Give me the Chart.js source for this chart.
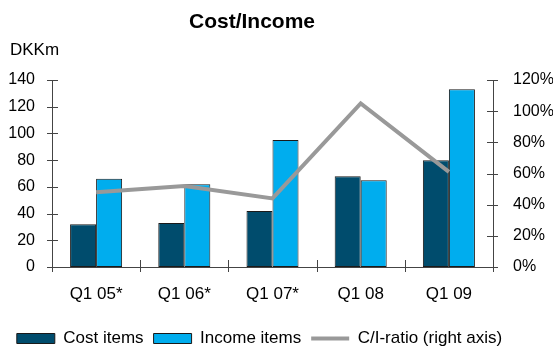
<!DOCTYPE html>
<html>
<head>
<meta charset="utf-8">
<title>Cost/Income</title>
<script src="https://cdn.jsdelivr.net/npm/chart.js@4.4.1/dist/chart.umd.min.js"></script>
<style>
  html, body { margin: 0; padding: 0; background: #fff; }
  #wrap { width: 553px; height: 352px; position: relative; }
</style>
</head>
<body>
<div id="wrap"><canvas id="costChart"></canvas></div>
<script>
// Quarterly figures, DKKm
const quarters = ['Q1 05*', 'Q1 06*', 'Q1 07*', 'Q1 08', 'Q1 09'];
const costItems = [32, 33, 42, 68, 80];
const incomeItems = [66, 62, 95, 65, 133];
// C/I-ratio in percent (right axis)
const ciRatio = [48, 52, 44, 105, 61];

const leftTicks = [0, 20, 40, 60, 80, 100, 120, 140];
const rightTicks = [0, 20, 40, 60, 80, 100, 120];

const FONT = "'Liberation Sans', Arial, Helvetica, sans-serif";
const axisColor = '#444';

// small tick marks crossing the axis lines
const axisTicks = {
    id: 'axisTicks',
    beforeDatasetsDraw(chart) {
        const ctx = chart.ctx;
        const { x, y, y1 } = chart.scales;
        const area = chart.chartArea;
        ctx.save();
        ctx.strokeStyle = axisColor;
        ctx.lineWidth = 1;
        ctx.beginPath();
        y.ticks.forEach((t, i) => {
            const py = Math.round(y.getPixelForTick(i)) + 0.5;
            ctx.moveTo(area.left - 5, py);
            ctx.lineTo(area.left + 6, py);
        });
        y1.ticks.forEach((t, i) => {
            const py = Math.round(y1.getPixelForTick(i)) + 0.5;
            ctx.moveTo(area.right - 6, py);
            ctx.lineTo(area.right + 5, py);
        });
        for (let i = 0; i <= quarters.length; i++) {
            const px = Math.round(x.getPixelForValue(i - 0.5)) + 0.5;
            ctx.moveTo(px, area.bottom - 7);
            ctx.lineTo(px, area.bottom + 5);
        }
        ctx.stroke();
        ctx.restore();
    }
};

// title and unit label
const headings = {
    id: 'headings',
    afterDraw(chart) {
        const ctx = chart.ctx;
        ctx.save();
        ctx.fillStyle = '#000';
        ctx.textBaseline = 'middle';
        ctx.textAlign = 'center';
        ctx.font = 'bold 21px ' + FONT;
        ctx.fillText('Cost/Income', 252, 22);
        ctx.textAlign = 'left';
        ctx.font = '17px ' + FONT;
        ctx.fillText('DKKm', 10, 50);
        ctx.restore();
    }
};

// move the legend row a little lower and to the left
const legendShift = {
    id: 'legendShift',
    afterLayout(chart) {
        const lg = chart.legend;
        lg.top += 5;
        lg.bottom += 5;
        lg.left -= 17;
        lg.right -= 17;
    }
};

document.addEventListener('DOMContentLoaded', function() {
    const ctx = document.getElementById('costChart').getContext('2d');

    new Chart(ctx, {
        type: 'bar',
        data: {
            labels: quarters,
            datasets: [
                {
                    label: 'Cost items',
                    data: costItems,
                    backgroundColor: '#004c6d',
                    borderColor: '#1a1a1a',
                    borderWidth: 1,
                    borderSkipped: false,
                    categoryPercentage: 0.59,
                    barPercentage: 1.0,
                    yAxisID: 'y',
                    order: 1
                },
                {
                    label: 'Income items',
                    data: incomeItems,
                    backgroundColor: '#00adee',
                    borderColor: '#1a1a1a',
                    borderWidth: 1,
                    borderSkipped: false,
                    categoryPercentage: 0.59,
                    barPercentage: 1.0,
                    yAxisID: 'y',
                    order: 1
                },
                {
                    type: 'line',
                    label: 'C/I-ratio (right axis)',
                    data: ciRatio,
                    borderColor: '#999999',
                    backgroundColor: '#999999',
                    borderWidth: 4,
                    borderJoinStyle: 'miter',
                    pointRadius: 0,
                    tension: 0,
                    yAxisID: 'y1',
                    order: 0
                }
            ]
        },
        options: {
            responsive: true,
            maintainAspectRatio: false,
            animation: false,
            layout: {
                padding: { top: 80, right: 0, bottom: 0, left: 0 }
            },
            scales: {
                x: {
                    grid: { display: false, offset: true },
                    border: { display: true, color: axisColor, width: 1 },
                    ticks: {
                        color: '#000',
                        font: { family: FONT, size: 17 },
                        padding: 9,
                        maxRotation: 0
                    },
                    afterFit(scale) { scale.height = 48; }
                },
                y: {
                    position: 'left',
                    min: 0,
                    max: 140,
                    afterBuildTicks(scale) {
                        scale.ticks = leftTicks.map(v => ({ value: v }));
                    },
                    grid: { display: false },
                    border: { display: true, color: axisColor, width: 1 },
                    ticks: {
                        color: '#000',
                        font: { family: FONT, size: 16 },
                        padding: 9
                    },
                    afterFit(scale) { scale.width = 52; }
                },
                y1: {
                    position: 'right',
                    min: 0,
                    max: 120,
                    afterBuildTicks(scale) {
                        scale.ticks = rightTicks.map(v => ({ value: v }));
                    },
                    grid: { display: false },
                    border: { display: true, color: axisColor, width: 1 },
                    ticks: {
                        color: '#000',
                        font: { family: FONT, size: 16 },
                        padding: 12,
                        callback: v => v + '%'
                    },
                    afterFit(scale) { scale.width = 60; }
                }
            },
            plugins: {
                legend: {
                    position: 'bottom',
                    labels: {
                        color: '#000',
                        font: { family: FONT, size: 17 },
                        usePointStyle: true,
                        pointStyleWidth: 38,
                        boxHeight: 10,
                        padding: 10,
                        sort: (a, b) => a.datasetIndex - b.datasetIndex,
                        generateLabels(chart) {
                            const items = Chart.defaults.plugins.legend.labels.generateLabels(chart);
                            items.forEach(item => {
                                item.pointStyle = item.datasetIndex === 2 ? 'line' : 'rect';
                            });
                            return items;
                        }
                    }
                },
                tooltip: { enabled: false }
            }
        },
        plugins: [axisTicks, headings, legendShift]
    });
});
</script>
</body>
</html>
